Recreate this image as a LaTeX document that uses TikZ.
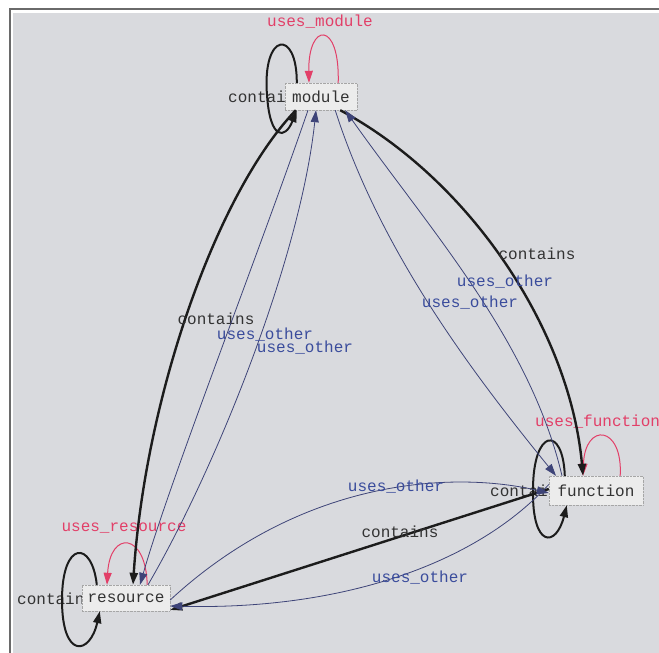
\documentclass[tikz,border=0pt]{standalone}
\usepackage{fontspec}
\newfontfamily\monofnt{Liberation Mono}
\usetikzlibrary{arrows.meta}
\definecolor{bgc}{HTML}{D9DADE}
\definecolor{framec}{HTML}{6A6A6A}
\definecolor{boxc}{HTML}{ECECEC}
\definecolor{contc}{HTML}{1C1C1C}
\definecolor{usec}{HTML}{3E4478}
\definecolor{uselbl}{HTML}{3A4C9C}
\definecolor{redc}{HTML}{E23F68}
\tikzset{
  txt/.style={font=\monofnt\fontsize{16}{16}\selectfont, inner sep=0pt},
  box/.style={txt, fill=boxc, draw=gray!70, densely dotted, text=black!80, inner sep=0pt},
  contlbl/.style={txt, text=black!80},
  uselabel/.style={txt, text=uselbl},
  redlbl/.style={txt, text=redc},
  tip/.style={-{Triangle[length=12pt,width=8pt]}},
  contedge/.style={tip, draw=contc, line width=2.4pt},
  useedge/.style={tip, draw=usec, line width=0.8pt},
  rededge/.style={tip, draw=redc, line width=1pt},
  loopedge/.style={tip, draw=contc, line width=2pt},
}
\begin{document}
\begin{tikzpicture}[x=1pt,y=-1pt]
\useasboundingbox (0,0) rectangle (659,653);
\fill[white] (0,0) rectangle (659,653);
\fill[bgc] (13,13) rectangle (659,653);
\draw[framec, line width=2pt] (10,653) -- (10,9) -- (659,9);

% loop labels (partly hidden by the boxes)
\node[contlbl, anchor=west] (lmod) at (228,97) {contains};
\node[contlbl, anchor=west] (lfun) at (490,491) {contains};
\node[contlbl, anchor=west] (lres) at (17,599) {contains};

% nodes
\node[box, minimum width=72pt, minimum height=27pt] (module) at (321,96.5) {module};
\node[box, minimum width=94pt, minimum height=29pt] (function) at (596,490.5) {function};
\node[box, minimum width=88pt, minimum height=26pt] (resource) at (126,598) {resource};

% self loops
\draw[loopedge] ([xshift=12pt]module.north west) .. controls (297,28) and (262,32) .. (267,95)
  .. controls (270,140) and (285,140) .. ([xshift=12pt]module.south west);
\draw[rededge] ([xshift=-19pt]module.north east) .. controls (340,20) and (308,22) .. ([xshift=-12pt]module.north);
\node[redlbl] (lum) at (320,22) {uses\_module};

\draw[loopedge] ([xshift=16pt]function.north west) .. controls (563,425) and (533,428) .. (533,490)
  .. controls (532,548) and (556,548) .. ([xshift=18pt]function.south west);
\draw[rededge] ([xshift=-23pt]function.north east) .. controls (623,425) and (585,422) .. ([xshift=-13pt]function.north);
\node[redlbl, anchor=west] (luf) at (535,422) {uses\_function};

\draw[loopedge] ([xshift=15pt]resource.north west) .. controls (92,540) and (62,540) .. (62,600)
  .. controls (62,660) and (90,655) .. ([xshift=18pt]resource.south west);
\draw[rededge] ([xshift=-23pt]resource.north east) .. controls (146,532) and (110,530) .. ([xshift=-19pt]resource.north);
\node[redlbl] (lur) at (124,528) {uses\_resource};

% contains edges
\draw[contedge] ([xshift=11pt]module.south west) .. controls (215,195) and (145,400) .. ([xshift=7pt]resource.north);
\draw[contedge] ([xshift=-17pt]module.south east) .. controls (470,180) and (570,330) .. ([xshift=-13pt]function.north);
\draw[contedge] ([yshift=1.5pt]function.west) -- ([yshift=-12pt]resource.east);
\node[contlbl] (c1) at (216,319) {contains};
\node[contlbl] (c2) at (537,254) {contains};
\node[contlbl] (c3) at (400,532) {contains};

% uses_other module - resource
\draw[useedge] ([xshift=-13pt]module.south) .. controls (260,250) and (170,480) .. ([xshift=14pt]resource.north);
\draw[useedge] ([xshift=22pt]resource.north) .. controls (215,470) and (300,260) .. ([xshift=-5pt]module.south);
\node[uselabel] (u1) at (265,335) {uses\_other};
\node[uselabel] (u2) at (305,348) {uses\_other};

% uses_other module - function
\draw[useedge] ([xshift=-34pt]function.north) .. controls (530,340) and (430,230) .. ([xshift=-12pt]module.south east);
\draw[useedge] ([xshift=-22pt]module.south east) .. controls (380,250) and (470,370) .. ([xshift=-40pt]function.north);
\node[uselabel] (u3) at (505,282) {uses\_other};
\node[uselabel] (u4) at (470,303) {uses\_other};

% uses_other function - resource
\draw[useedge] ([yshift=-2pt]resource.east) .. controls (300,480) and (450,470) .. ([yshift=-2.5pt]function.west);
\draw[useedge] ([yshift=6pt]function.west) .. controls (470,570) and (330,610) .. ([yshift=-8pt]resource.east);
\node[uselabel] (u5) at (396,487) {uses\_other};
\node[uselabel] (u6) at (420,578) {uses\_other};
\end{tikzpicture}
\end{document}
